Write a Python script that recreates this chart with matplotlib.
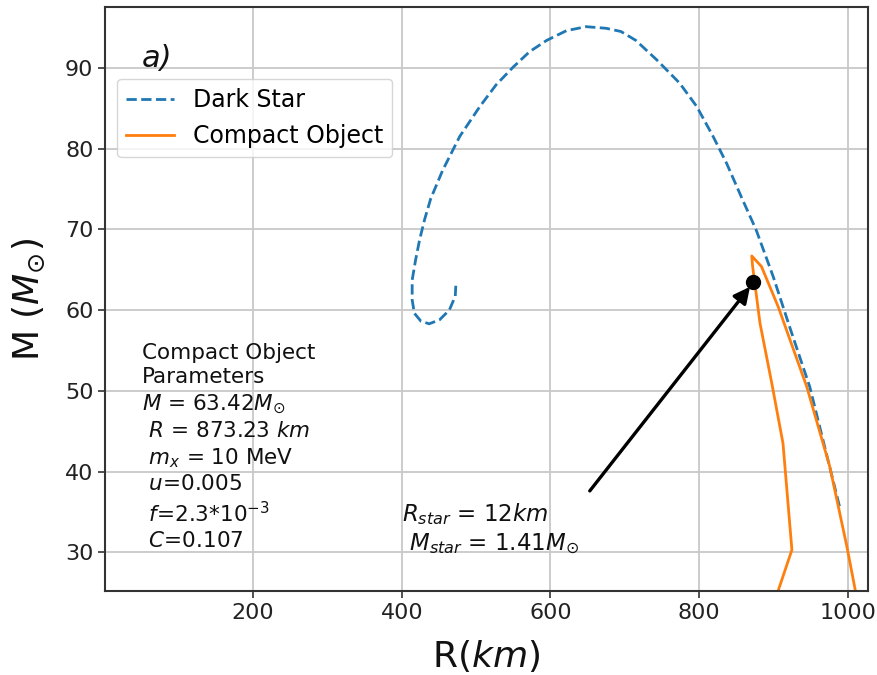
import matplotlib
matplotlib.use("Agg")
import matplotlib.pyplot as plt

# Dark star mass-radius sequence (km, solar masses)
dark_R = [989, 949, 922, 900, 877, 857, 837, 819, 797, 774, 743, 715, 695,
          675, 648, 621.5, 595, 572, 550, 527, 505, 478, 455, 439, 431, 424,
          418.6, 414, 414, 417, 426, 437, 451, 464, 472, 473]
dark_M = [35.7, 50.5, 57.9, 64.1, 69.9, 74.0, 78.2, 81.5, 85.2, 88.1, 91.0,
          93.4, 94.5, 94.9, 95.1, 94.6, 93.4, 92.0, 90.1, 87.9, 85.2, 81.5,
          77.3, 73.8, 71.3, 68.7, 66.2, 63.7, 61.25, 59.6, 58.6, 58.3, 58.8,
          60.0, 61.7, 63.5]

# Compact object mass-radius sequence
comp_R = [902, 925, 913, 898, 882, 875, 872, 871, 874, 884, 906.6, 945, 976,
          999, 1013]
comp_M = [24.0, 30.3, 43.5, 50.9, 58.4, 63.4, 65.5, 66.7, 66.4, 65.4, 60.4,
          50.5, 40.6, 30.7, 24.0]

# Selected configuration
sel_R = 873.23
sel_M = 63.42
arrow_tail = (653, 37.6)

x_ticks = [200, 400, 600, 800, 1000]
y_ticks = [30, 40, 50, 60, 70, 80, 90]

params_text = ("Compact Object\nParameters\n$M$ = 63.42$M_{\\odot}$\n"
               " $R$ = 873.23 $km$\n $m_x$ = 10 MeV\n $u$=0.005\n"
               " $f$=2.3*$10^{-3}$\n $C$=0.107")
star_text = "$R_{star}$ = 12$km$\n $M_{star}$ = 1.41$M_{\\odot}$"

fig = plt.figure(figsize=(8.77, 6.75), dpi=100)
ax = fig.add_axes([0.12, 0.1244, 0.8694, 0.8648])

ax.plot(dark_R, dark_M, linestyle="--", color="#1f77b4", lw=2.0,
        label="Dark Star")
ax.plot(comp_R, comp_M, linestyle="-", color="#ff7f0e", lw=2.0,
        label="Compact Object")
ax.plot([sel_R], [sel_M], "o", color="black", ms=10)
ax.annotate("", xy=(sel_R, sel_M), xytext=arrow_tail,
            arrowprops=dict(arrowstyle="-|>", color="black", lw=2.4,
                            mutation_scale=24, shrinkA=0, shrinkB=4))

ax.set_xlim(1, 1027)
ax.set_ylim(25.2, 97.5)
ax.set_xticks(x_ticks)
ax.set_yticks(y_ticks)
ax.tick_params(labelsize=16, length=5, width=1.2, color="#333333",
               labelcolor="#222222")
ax.grid(True, color="#c8c8c8", lw=1.3)
for sp in ax.spines.values():
    sp.set_color("#333333")
    sp.set_linewidth(1.5)

ax.set_xlabel("R($km$)", fontsize=26, color="#111111", labelpad=11)
ax.set_ylabel("M ($M_{\\odot}$)", fontsize=26, color="#111111", labelpad=13)

ax.text(50, 90.1, "a)", fontsize=22, style="italic", color="#111111",
        va="baseline", ha="left")
ax.text(50, 30.2, params_text, fontsize=15.5, color="#111111",
        va="bottom", ha="left", linespacing=1.3)
ax.text(400, 29.4, star_text, fontsize=16.5, color="#111111",
        va="bottom", ha="left", linespacing=1.28)

ax.legend(loc="upper left", bbox_to_anchor=(0.0, 0.898), fontsize=17,
          framealpha=0.8, edgecolor="#cccccc")

fig.savefig("out.png", dpi=100)
